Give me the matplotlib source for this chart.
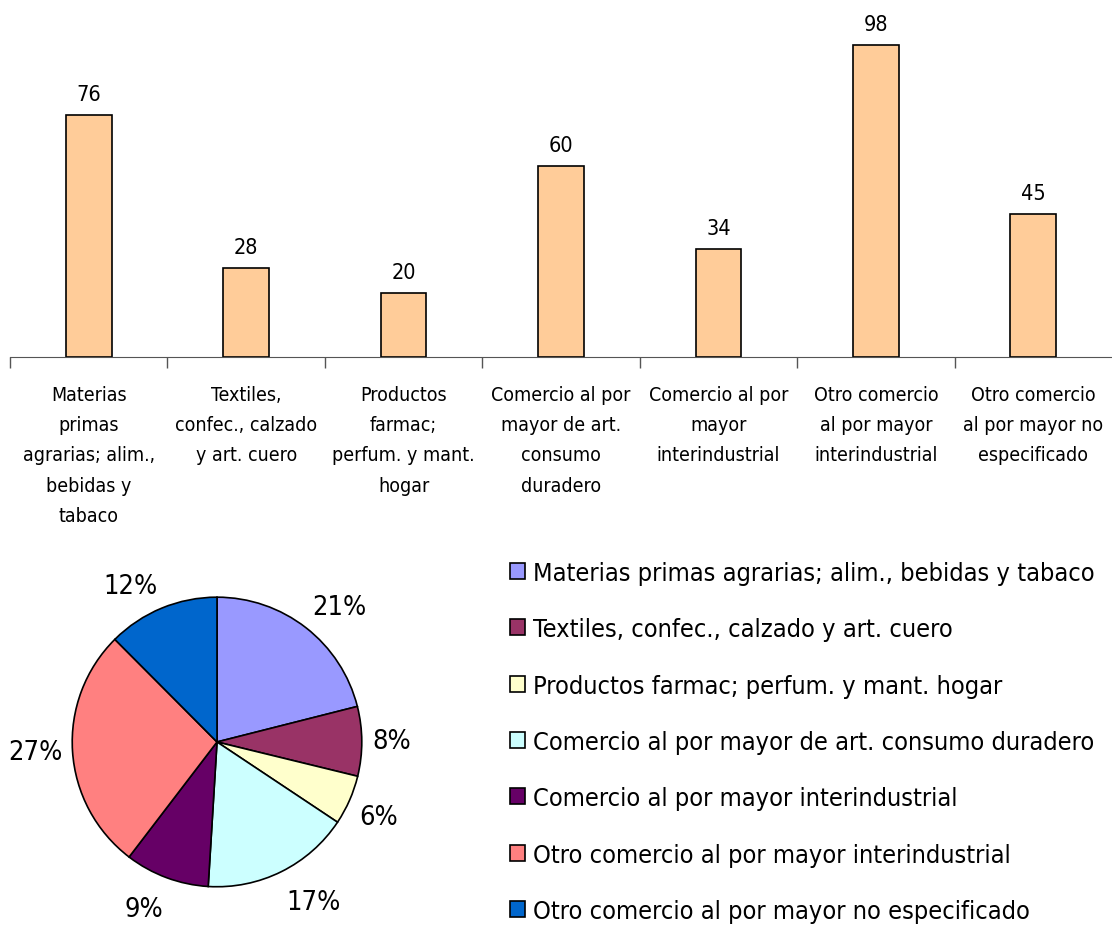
import matplotlib
matplotlib.use("Agg")
import matplotlib.pyplot as plt
import numpy as np

plt.rcParams['font.family'] = ['DejaVu Sans']
plt.rcParams['font.stretch'] = 'condensed'

# Datos
categorias = [
    "Materias primas agrarias; alim., bebidas y tabaco",
    "Textiles, confec., calzado y art. cuero",
    "Productos farmac; perfum. y mant. hogar",
    "Comercio al por mayor de art. consumo duradero",
    "Comercio al por mayor interindustrial",
    "Otro comercio al por mayor interindustrial",
    "Otro comercio al por mayor no especificado",
]
etiquetas_eje = [
    "Materias\nprimas\nagrarias; alim.,\nbebidas y\ntabaco",
    "Textiles,\nconfec., calzado\ny art. cuero",
    "Productos\nfarmac;\nperfum. y mant.\nhogar",
    "Comercio al por\nmayor de art.\nconsumo\nduradero",
    "Comercio al por\nmayor\ninterindustrial",
    "Otro comercio\nal por mayor\ninterindustrial",
    "Otro comercio\nal por mayor no\nespecificado",
]
valores = [76, 28, 20, 60, 34, 98, 45]
colores_pie = ['#9999FF', '#993366', '#FFFFCC', '#CCFFFF', '#660066', '#FF8080', '#0066CC']

fig = plt.figure(figsize=(11.12, 9.29), dpi=100)

# Gráfico de barras
ax = fig.add_axes([0.009, 0.6146, 0.991, 0.3767])
x = np.arange(len(valores))
barras = ax.bar(x, valores, width=0.29, color='#FFCC99', edgecolor='black', linewidth=1.2)
ax.bar_label(barras, padding=8, fontsize=15.5)
ax.set_xlim(-0.5, len(valores) - 0.5)
ax.set_ylim(0, 110)
ax.set_yticks([])
for s in ['top', 'right', 'left']:
    ax.spines[s].set_visible(False)
ax.spines['bottom'].set_color('#555555')
ax.set_xticks(x)
ax.set_xticklabels(etiquetas_eje, fontsize=14, linespacing=1.75, va='top')
ax.tick_params(axis='x', which='major', length=0, pad=20)
ax.set_xticks(np.arange(-0.5, len(valores) - 0.5, 1.0), minor=True)
ax.tick_params(axis='x', which='minor', length=8, color='#555555', width=1)

# Gráfico circular
ax2 = fig.add_axes([0.0324, 0.0054, 0.3255, 0.3897])
total = sum(valores)
pct = [f"{v / total * 100:.0f}%" for v in valores]
cunas, textos = ax2.pie(valores, colors=colores_pie, labels=pct, startangle=90,
                        counterclock=False, labeldistance=1.07,
                        wedgeprops=dict(edgecolor='black', linewidth=1.2),
                        textprops=dict(fontsize=19.5))
# etiquetas de arriba/abajo un poco más alejadas
for t in textos:
    px, py = t.get_position()
    if py > 0.3:
        t.set_va('bottom')
    elif py < -0.3:
        t.set_va('top')
        if py < -0.8:
            t.set_position((px, py - 0.06))

fig.legend(cunas, categorias, loc='upper left', bbox_to_anchor=(0.438, 0.4197),
           frameon=False, fontsize=18.2, handlelength=0.6, handleheight=0.6,
           handletextpad=0.3, labelspacing=1.28)

fig.savefig('out.png', dpi=100)
